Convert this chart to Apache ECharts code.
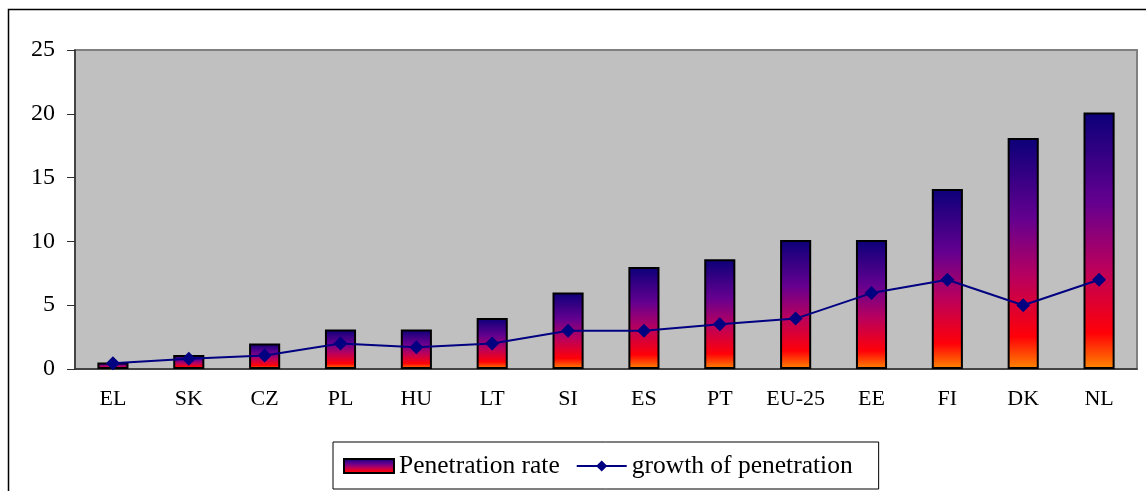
<!DOCTYPE html>
<html><head><meta charset="utf-8">
<script src="https://cdn.jsdelivr.net/npm/echarts@6/dist/echarts.min.js"></script>
<style>html,body{margin:0;padding:0;background:#fff}#c{width:1146px;height:491px}</style>
</head><body><div id="c"></div>
<script>
const categories = ['EL','SK','CZ','PL','HU','LT','SI','ES','PT','EU-25','EE','FI','DK','NL'];
const penetrationRate = [0.5, 1.1, 2, 3.1, 3.1, 4, 6, 8, 8.6, 10.1, 10.1, 14.1, 18.1, 20.1];
const growthOfPenetration = [0.45, 0.8, 1.05, 2, 1.7, 2, 3, 3, 3.5, 3.95, 5.95, 7, 5, 7];
const yTicks = {min: 0, max: 25, interval: 5};

const chart = echarts.init(document.getElementById('c'));
const font = '"Liberation Serif", "DejaVu Serif", serif';
const barGrad = new echarts.graphic.LinearGradient(0, 0, 0, 1, [
  {offset: 0, color: '#0b0078'},
  {offset: 0.35, color: '#640090'},
  {offset: 0.6, color: '#b8005e'},
  {offset: 0.86, color: '#ff0008'},
  {offset: 1, color: '#ff8800'}
]);
chart.setOption({
  animation: false,
  textStyle: {fontFamily: font},
  graphic: [{type: 'rect', shape: {x: 8.5, y: 9.5, width: 1200, height: 600}, style: {fill: 'none', stroke: '#000', lineWidth: 1.5}, z: 100}],
  grid: {left: 75, right: 9, top: 50, bottom: 122, show: true, backgroundColor: '#c0c0c0', borderColor: '#808080', borderWidth: 2},
  legend: {
    bottom: 2, left: 333,
    borderColor: '#000', borderWidth: 1, padding: [11, 26, 10, 10],
    itemWidth: 50, itemHeight: 14, itemGap: 16,
    textStyle: {fontFamily: font, fontSize: 25.5, color: '#000'},
    data: [{name: 'Penetration rate', icon: 'rect'}, {name: 'growth of penetration'}]
  },
  xAxis: {
    type: 'category', data: categories,
    axisLine: {lineStyle: {color: '#303030', width: 1.5}},
    axisTick: {length: 7, interval: 0, lineStyle: {color: '#303030'}},
    axisLabel: {interval: 0, fontFamily: font, fontSize: 22, color: '#000', margin: 19}
  },
  yAxis: {
    type: 'value', min: yTicks.min, max: yTicks.max, interval: yTicks.interval,
    axisLine: {show: true, lineStyle: {color: '#303030', width: 1.5}},
    axisTick: {show: true, length: 8, lineStyle: {color: '#303030'}},
    splitLine: {show: false},
    axisLabel: {fontFamily: font, fontSize: 24, color: '#000', margin: 20}
  },
  series: [
    {name: 'Penetration rate', type: 'bar', data: penetrationRate, barWidth: '41%',
     itemStyle: {color: barGrad, borderColor: '#000', borderWidth: 2}},
    {name: 'growth of penetration', type: 'line', data: growthOfPenetration,
     symbol: 'diamond', symbolSize: 14,
     lineStyle: {color: '#000080', width: 2}, itemStyle: {color: '#000080'}}
  ]
});
</script></body></html>
